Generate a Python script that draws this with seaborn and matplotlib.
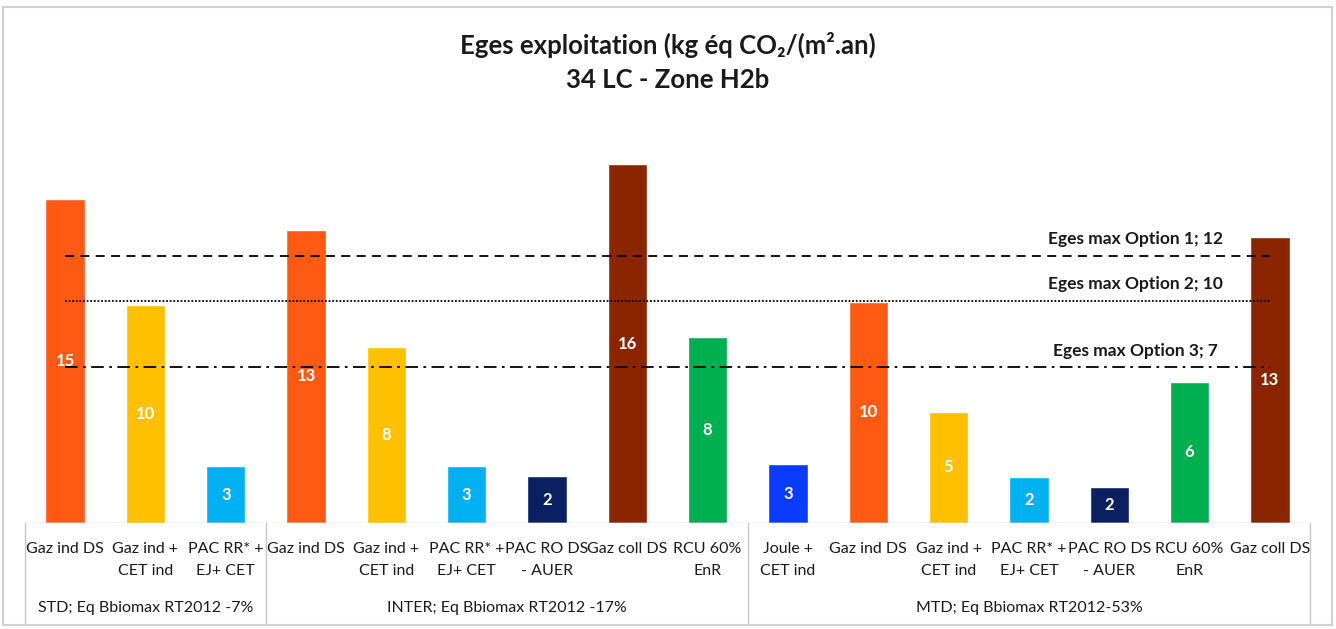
import numpy as np
import pandas as pd
import seaborn as sns
import matplotlib.pyplot as plt
from matplotlib.patches import Rectangle
import matplotlib.transforms as mtransforms

# data
labels = ["Gaz ind DS", "Gaz ind +\nCET ind", "PAC RR* +\nEJ+ CET",
          "Gaz ind DS", "Gaz ind +\nCET ind", "PAC RR* +\nEJ+ CET", "PAC RO DS\n- AUER",
          "Gaz coll DS", "RCU 60%\nEnR",
          "Joule +\nCET ind", "Gaz ind DS", "Gaz ind +\nCET ind", "PAC RR* +\nEJ+ CET",
          "PAC RO DS\n- AUER", "RCU 60%\nEnR", "Gaz coll DS"]
values = [14.6, 9.8, 2.55, 13.2, 7.9, 2.55, 2.1, 16.15, 8.35,
          2.65, 9.95, 5.0, 2.05, 1.6, 6.35, 12.85]
colors = ["#FF5A14", "#FFC000", "#00B0F0", "#FF5A14", "#FFC000", "#00B0F0", "#0A2060",
          "#8B2500", "#00B050", "#0A3CFF", "#FF5A14", "#FFC000", "#00B0F0", "#0A2060",
          "#00B050", "#8B2500"]
groups = ["STD; Eq Bbiomax RT2012 -7%", "INTER; Eq Bbiomax RT2012 -17%",
          "MTD; Eq Bbiomax RT2012-53%"]
group_sizes = [3, 6, 7]
thresholds = [12, 10, 7]
threshold_names = ["Eges max Option 1; 12", "Eges max Option 2; 10", "Eges max Option 3; 7"]
threshold_styles = [(0, (5, 3.5)), (0, (1, 1)), (0, (7, 3, 1.5, 3))]

df = pd.DataFrame({"pos": [str(i) for i in range(len(values))],
                   "value": values, "color": colors})

sns.set_theme(style="white")
plt.rcParams["font.family"] = ["Lato", "DejaVu Sans"]

fig = plt.figure(figsize=(13.36, 6.29), dpi=100)
ax = fig.add_axes([25 / 1336, (629 - 523) / 629, 1285 / 1336, 400 / 629])

sns.barplot(data=df, x="pos", y="value", hue="pos", palette=dict(zip(df["pos"], df["color"])),
            width=0.49, legend=False, ax=ax, saturation=1)

ax.set_xlim(-0.5, len(values) - 0.5)
ax.set_ylim(0, 18)
for s in ax.spines.values():
    s.set_visible(False)
ax.set_yticks([])
ax.set_xlabel("")
ax.set_ylabel("")
ax.set_xticks(range(len(values)))
ax.set_xticklabels(labels, fontsize=11.5, color="#1a1a1a", linespacing=1.65)
ax.tick_params(axis="x", length=0, pad=14)

# value labels in the middle of the bars
for i, v in enumerate(values):
    ax.text(i, v / 2, f"{v:.0f}", ha="center", va="center", color="white",
            fontsize=12, fontweight="bold")

# threshold lines
for t, name, ls in zip(thresholds, threshold_names, threshold_styles):
    ax.plot([0, len(values) - 1], [t, t], color="black", lw=1.3, linestyle=ls, zorder=5)
    ax.text(13.33, t + 0.4, name, ha="center", va="bottom", fontsize=12.5,
            fontweight="bold", color="#1a1a1a")

# category table lines
ax.axhline(0, color="#c8c8c8", lw=1, zorder=6)
trans = mtransforms.blended_transform_factory(ax.transData, ax.transAxes)
edges = np.concatenate([[0], np.cumsum(group_sizes)]) - 0.5
for e in edges:
    ax.plot([e, e], [0, -0.25], color="#c8c8c8", lw=1, transform=trans, clip_on=False)
for g, a, b in zip(groups, edges[:-1], edges[1:]):
    ax.text((a + b) / 2, -0.212, g, transform=trans, ha="center", va="center",
            fontsize=11.5, color="#1a1a1a")

fig.text(0.5, 1 - 45 / 629, "Eges exploitation (kg éq CO₂/(m².an)", ha="center", va="center",
         fontsize=18.5, fontweight="bold", color="#1a1a1a")
fig.text(0.5, 1 - 80 / 629, "34 LC - Zone H2b", ha="center", va="center",
         fontsize=18.5, fontweight="bold", color="#1a1a1a")

fig.patches.append(Rectangle((3 / 1336, 4 / 629), 1329 / 1336, 618 / 629,
                             transform=fig.transFigure, fill=False,
                             edgecolor="#d0d0d0", lw=1.5))

fig.savefig("out.png", dpi=100)
